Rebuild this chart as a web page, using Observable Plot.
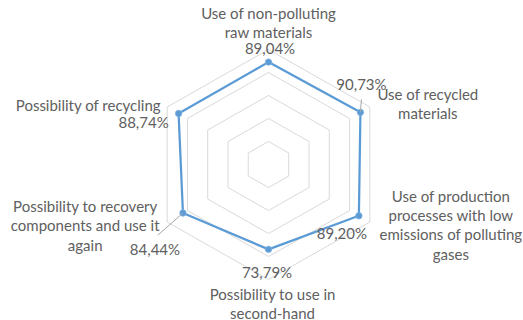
<!DOCTYPE html>
<html>
<head>
<meta charset="utf-8">
<script src="https://cdn.jsdelivr.net/npm/d3@7"></script>
<script src="https://cdn.jsdelivr.net/npm/@observablehq/plot@0.6"></script>
<style>
  html, body { margin: 0; padding: 0; background: #fff; }
  #chart svg { display: block; }
</style>
</head>
<body>
<div id="chart"></div>
<script>
// Radar chart: environmental criteria scores (%), six spokes clockwise from the top
const categories = [
  "Use of non-polluting\nraw materials",
  "Use of recycled\nmaterials",
  "Use of production\nprocesses with low\nemissions of polluting\ngases",
  "Possibility to use in\nsecond-hand",
  "Possibility to recovery\ncomponents and use it\nagain",
  "Possibility of recycling"
];
const values = [89.04, 90.73, 89.20, 73.79, 84.44, 88.74];
const gridLevels = [20, 40, 60, 80, 100];

// layout (pixels)
const W = 523, H = 320;
const cx = 268, cy = 164, Rx = 117, Ry = 115;
const font = "Lato, 'Open Sans', sans-serif";
const textColor = "#606060";
const blue = "#5b9bd5";
const fontSize = 15;

// per-spoke label placement, pixel offsets
const catOffsets = [[0, -27], [58, -3.5], [81, 2.5], [4, 23.5], [-82, 3], [-79, -2.5]];
const valOffsets = [[1.5, -12.5], [1, -27], [-17, 18], [-1.5, 24], [-28, 37], [-35, 10]];
const leaders = [null, [1, -13], null, null, [-25, 22], null];

const n = categories.length;
const angle = i => Math.PI / 2 - i * 2 * Math.PI / n;
const px = (r, i) => r * Math.cos(angle(i));
const py = (r, i) => r * Math.sin(angle(i));
const fmt = v => v.toFixed(2).replace(".", ",") + "%";

const grid = gridLevels.flatMap(l => d3.range(n + 1).map(i => ({level: l, x: px(l, i % n), y: py(l, i % n)})));
const series = d3.range(n + 1).map(i => ({x: px(values[i % n], i % n), y: py(values[i % n], i % n)}));
const points = values.map((v, i) => ({i, v, x: px(v, i), y: py(v, i)}));

const ux = Rx / 100, uy = Ry / 100; // pixels per data unit

const marks = [
  Plot.line(grid, {x: "x", y: "y", z: "level", stroke: "#d9d9d9", strokeWidth: 1}),
  Plot.line(series, {x: "x", y: "y", stroke: blue, strokeWidth: 2.25, strokeLinejoin: "round"}),
  Plot.dot(points, {x: "x", y: "y", r: 3.2, fill: blue, stroke: "#7fb0de", strokeWidth: 0.8}),
  Plot.link(points.filter(d => leaders[d.i]), {
    x1: "x", y1: "y",
    x2: d => d.x + leaders[d.i][0] / ux,
    y2: d => d.y - leaders[d.i][1] / uy,
    stroke: "#a6a6a6", strokeWidth: 1
  })
];

categories.forEach((c, i) => {
  marks.push(Plot.text([c], {
    x: px(100, i), y: py(100, i), text: d => d,
    dx: catOffsets[i][0], dy: catOffsets[i][1],
    textAnchor: "middle", lineAnchor: "middle", lineHeight: 1.3,
    fill: textColor, fontSize, fontFamily: font
  }));
});
points.forEach(p => {
  marks.push(Plot.text([p], {
    x: "x", y: "y", text: d => fmt(d.v),
    dx: valOffsets[p.i][0], dy: valOffsets[p.i][1],
    textAnchor: "middle", lineAnchor: "middle",
    fill: textColor, fontSize, fontFamily: font
  }));
});

const chart = Plot.plot({
  width: W, height: H,
  margin: 0,
  x: {domain: [-100, 100], range: [cx - Rx, cx + Rx], axis: null},
  y: {domain: [-100, 100], range: [cy + Ry, cy - Ry], axis: null},
  style: {background: "#fff", fontFamily: font},
  marks
});
document.getElementById("chart").append(chart);
</script>
</body>
</html>
